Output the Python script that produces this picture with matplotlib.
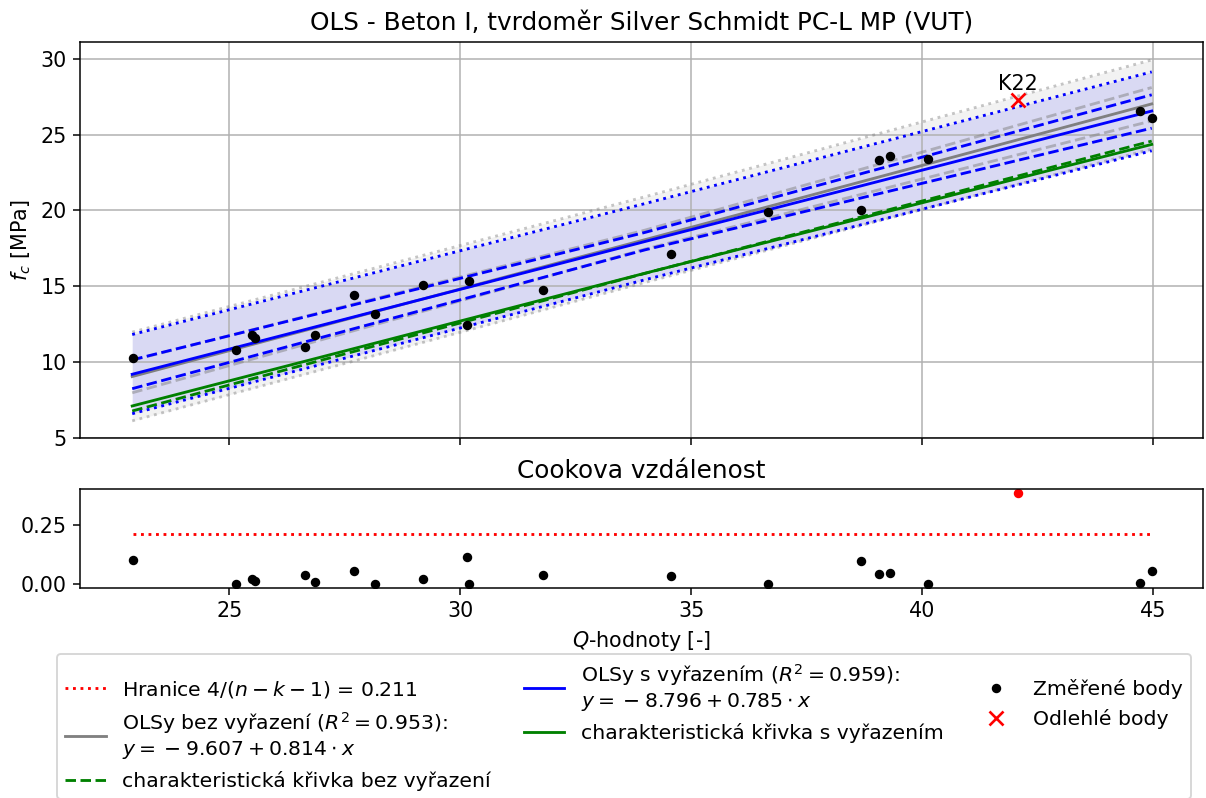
import matplotlib
matplotlib.use("Agg")
import matplotlib.pyplot as plt

plt.rcParams["font.size"] = 10.9

q_vals = [22.91, 25.15, 25.50, 25.56, 26.65, 26.85, 27.71, 28.15, 29.20, 30.14,
          30.20, 31.79, 34.56, 36.66, 38.67, 39.07, 39.31, 40.12, 44.72, 44.97]
fc_vals = [10.29, 10.79, 11.78, 11.60, 10.99, 11.80, 14.41, 13.14, 15.11, 12.43,
           15.33, 14.74, 17.13, 19.87, 20.03, 23.34, 23.58, 23.38, 26.52, 26.12]
cook_vals = [0.102, 0.000, 0.018, 0.010, 0.037, 0.007, 0.055, 0.000, 0.020, 0.114,
             0.001, 0.038, 0.031, 0.001, 0.098, 0.040, 0.044, 0.000, 0.003, 0.055]

# outlier
q_out = [42.07]
fc_out = [27.30]
cook_out = [0.385]
out_names = ["K22"]

cook_limit = 0.211

# regression lines and bands, read at left end / middle / right end
x_band = [22.9, 34.0, 44.97]
blue_fit = [9.20, 17.95, 26.55]
blue_ci_hi = [10.15, 18.55, 27.62]
blue_ci_lo = [8.25, 17.40, 25.42]
blue_pi_hi = [11.82, 20.45, 29.13]
blue_pi_lo = [6.60, 15.43, 23.93]
blue_char = [7.11, 15.86, 24.35]
gray_fit = [9.05, 18.07, 27.02]
gray_ci_hi = [10.12, 18.70, 28.10]
gray_ci_lo = [7.98, 17.45, 25.90]
gray_pi_hi = [11.98, 20.90, 29.92]
gray_pi_lo = [6.13, 15.25, 24.05]
gray_char = [6.78, 15.85, 24.57]

lbl_gray = "OLSy bez vyřazení ($R^2 = 0.953$):\n$y = \\:-\\:9.607 + 0.814 \\cdot x$"
lbl_blue = "OLSy s vyřazením ($R^2 = 0.959$):\n$y = \\:-\\:8.796 + 0.785 \\cdot x$"

fig = plt.figure(figsize=(1206 / 136, 798 / 136), dpi=136)
W, H = 1206, 798
ax = fig.add_axes([80 / W, 1 - 438 / H, 1123 / W, 396 / H])
axc = fig.add_axes([80 / W, 1 - 588 / H, 1123 / W, 99 / H], sharex=ax)

# prediction band fills
ax.fill_between(x_band, gray_pi_lo, gray_pi_hi, color="gray", alpha=0.1, lw=0)
ax.fill_between(x_band, blue_pi_lo, blue_pi_hi, color="blue", alpha=0.1, lw=0)

# without exclusion (gray)
h_gray, = ax.plot(x_band, gray_fit, color="gray", lw=1.5, label=lbl_gray)
ax.plot(x_band, gray_ci_hi, "--", color="gray", alpha=0.5)
ax.plot(x_band, gray_ci_lo, "--", color="gray", alpha=0.5)
ax.plot(x_band, gray_pi_hi, ":", color="gray", alpha=0.45)
ax.plot(x_band, gray_pi_lo, ":", color="gray", alpha=0.45)
h_gchar, = ax.plot(x_band, gray_char, "--", color="green",
                   label="charakteristická křivka bez vyřazení")

# with exclusion (blue)
h_blue, = ax.plot(x_band, blue_fit, color="blue", lw=1.5, label=lbl_blue)
ax.plot(x_band, blue_ci_hi, "--", color="blue")
ax.plot(x_band, blue_ci_lo, "--", color="blue")
ax.plot(x_band, blue_pi_hi, ":", color="blue")
ax.plot(x_band, blue_pi_lo, ":", color="blue")
h_bchar, = ax.plot(x_band, blue_char, "-", color="green",
                   label="charakteristická křivka s vyřazením")

h_pts, = ax.plot(q_vals, fc_vals, "o", color="black", ms=4, ls="none", label="Změřené body")
h_out, = ax.plot(q_out, fc_out, "x", color="red", ms=7, mew=1.4, ls="none", label="Odlehlé body")
for q, f, name in zip(q_out, fc_out, out_names):
    ax.annotate(name, (q, f), xytext=(0, 3), textcoords="offset points",
                ha="center", va="bottom")

ax.set_title("OLS - Beton I, tvrdoměr Silver Schmidt PC-L MP (VUT)")
ax.set_ylabel("$f_c$ [MPa]")
ax.set_ylim(5, 31.1)
ax.set_yticks([5, 10, 15, 20, 25, 30])
ax.grid(True)
ax.tick_params(labelbottom=False)

# Cook's distance
h_lim, = axc.plot([min(q_vals), max(q_vals)], [cook_limit, cook_limit], ":", color="red",
                  label="Hranice $4/(n-k-1)$ = 0.211")
axc.plot(q_vals, cook_vals, "o", color="black", ms=4, ls="none")
axc.plot(q_out, cook_out, "o", color="red", ms=4, ls="none")
axc.set_title("Cookova vzdálenost")
axc.set_xlabel("$Q$-hodnoty [-]")
axc.set_ylim(-0.018, 0.40)
axc.set_yticks([0.0, 0.25])
axc.set_xlim(21.77, 46.08)
axc.set_xticks([25, 30, 35, 40, 45])

handles = [h_lim, h_gray, h_gchar, h_blue, h_bchar, h_pts, h_out]
fig.legend(handles=handles, labels=[h.get_label() for h in handles], ncol=3,
           loc="upper left", bbox_to_anchor=(57 / W, 1 - 654 / H), borderaxespad=0,
           fontsize=10.8, columnspacing=1.6, labelspacing=0.5)

fig.savefig("out.png", dpi=136)
